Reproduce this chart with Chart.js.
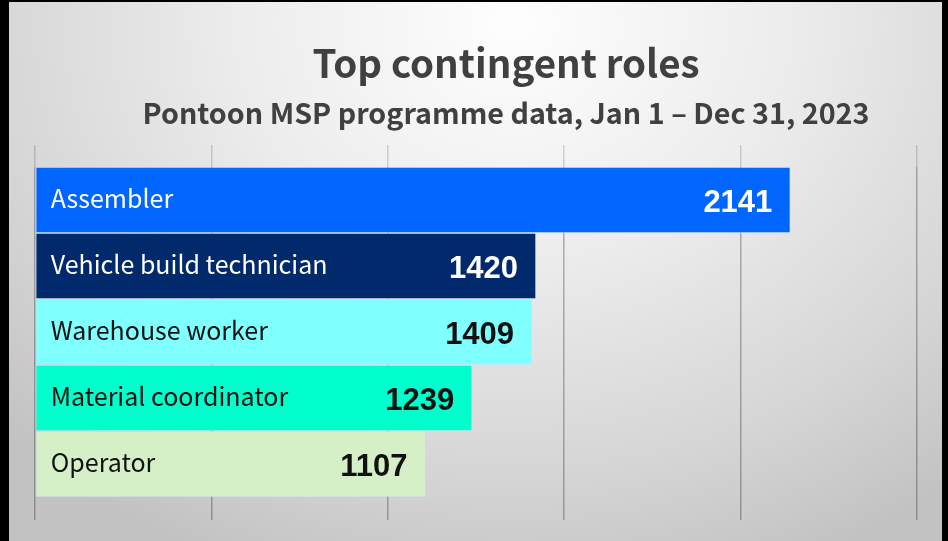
<!DOCTYPE html>
<html><head><meta charset="utf-8">
<script src="https://cdn.jsdelivr.net/npm/chart.js@4/dist/chart.umd.min.js"></script>
<style>
html,body{margin:0;padding:0;background:#000;width:948px;height:541px;overflow:hidden}
#frame{position:absolute;left:9px;top:2px;width:933px;height:539px;
background:radial-gradient(ellipse 75% 110% at 54% 4%, #fefefe 0%, #ececec 40%, #d6d6d6 75%, #c2c2c2 100%);}
canvas{display:block}
</style></head><body>
<div id="frame"><canvas id="c" width="933" height="539"></canvas></div>
<script>
const titleText = 'Top contingent roles';
const subtitleText = 'Pontoon MSP programme data, Jan 1 \u2013 Dec 31, 2023';
const categories = ['Assembler', 'Vehicle build technician', 'Warehouse worker', 'Material coordinator', 'Operator'];
const values = [2141, 1420, 1409, 1239, 1107];
const barColors = ['#0066FF', '#002A6B', '#80FFFF', '#00FFCC', '#D5EFC7'];
const textColors = ['#FFFFFF', '#FFFFFF', '#111111', '#111111', '#111111'];
const xTicks = [0, 500, 1000, 1500, 2000, 2500];

const labelPlugin = {
  id: 'barLabels',
  afterDatasetsDraw(chart) {
    const ctx = chart.ctx;
    const meta = chart.getDatasetMeta(0);
    ctx.save();
    meta.data.forEach((el, i) => {
      ctx.fillStyle = textColors[i];
      ctx.textBaseline = 'alphabetic';
      ctx.textAlign = 'left';
      ctx.font = '400 25px "Noto Sans CJK JP", "Noto Sans", sans-serif';
      ctx.fillText(categories[i], el.base + 15, el.y + 7.5);
      ctx.textAlign = 'right';
      ctx.font = 'bold 31px "Liberation Sans", Arial, sans-serif';
      ctx.fillText(String(values[i]), el.x - 18, el.y + 11.5);
    });
    ctx.restore();
  }
};

const titlePlugin = {
  id: 'titles',
  afterDraw(chart) {
    const ctx = chart.ctx;
    ctx.save();
    ctx.fillStyle = '#404040';
    ctx.textAlign = 'center';
    ctx.textBaseline = 'alphabetic';
    ctx.font = 'bold 38.5px "Noto Sans CJK JP", "Noto Sans", sans-serif';
    ctx.fillText(titleText, 497, 76);
    ctx.font = 'bold 28.7px "Noto Sans CJK JP", "Noto Sans", sans-serif';
    ctx.fillText(subtitleText, 497, 122);
    ctx.restore();
  }
};

const gridColor = 'rgba(0,0,0,0.28)';
new Chart(document.getElementById('c'), {
  type: 'bar',
  data: {
    labels: categories,
    datasets: [{
      data: values,
      backgroundColor: barColors,
      borderColor: 'rgba(210,225,255,0.55)',
      borderWidth: 1,
      borderSkipped: false,
      barPercentage: 1,
      categoryPercentage: 1
    }]
  },
  options: {
    indexAxis: 'y',
    responsive: false,
    devicePixelRatio: 1,
    animation: false,
    layout: { padding: { left: 26, right: 25, top: 143, bottom: 21 } },
    plugins: { legend: { display: false }, tooltip: { enabled: false }, title: { display: false } },
    scales: {
      y: { display: false },
      x: {
        position: 'bottom',
        min: xTicks[0], max: xTicks[xTicks.length - 1],
        ticks: { display: false, stepSize: xTicks[1] - xTicks[0] },
        grid: { color: gridColor, lineWidth: 1.5, tickLength: 23, drawTicks: true },
        border: { display: false }
      },
      x2: {
        position: 'top',
        axis: 'x',
        min: xTicks[0], max: xTicks[xTicks.length - 1],
        ticks: { display: false, stepSize: xTicks[1] - xTicks[0] },
        grid: { color: 'rgba(0,0,0,0.15)', lineWidth: 1.5, tickLength: 22, drawOnChartArea: false },
        border: { display: false }
      }
    }
  },
  plugins: [labelPlugin, titlePlugin]
});
</script>
</body></html>
